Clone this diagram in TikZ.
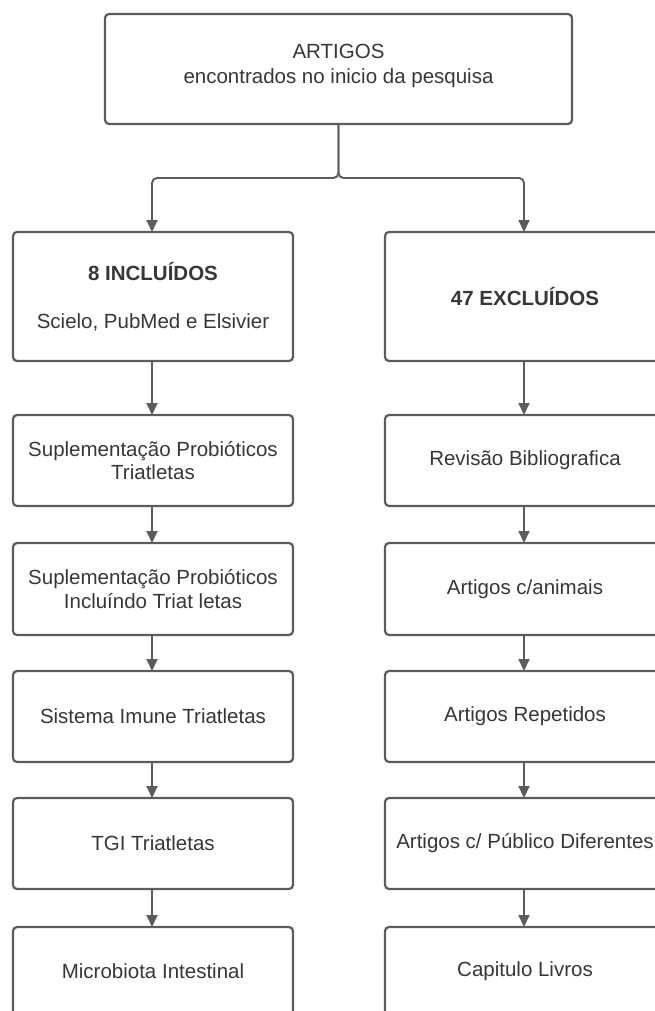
\documentclass[tikz,border=0pt]{standalone}
\usepackage{fontspec}
\setmainfont{Liberation Sans}
\usetikzlibrary{arrows.meta}
\definecolor{lc}{RGB}{92,92,92}
\definecolor{tc}{RGB}{55,55,55}
\tikzset{
  box/.style={draw=lc, line width=2.2pt, rounded corners=4pt, fill=white,
    minimum width=280pt, inner sep=0pt, outer sep=0pt, align=center,
    text=tc, font=\fontsize{20.5}{23.5}\selectfont},
  txt/.style={inner sep=0pt, align=center, text=tc, font=\fontsize{20.5}{25}\selectfont},
  arr/.style={draw=lc, line width=1.9pt, -{Triangle[width=11pt,length=12pt]}},
}
\begin{document}
\begin{tikzpicture}[x=1pt,y=-1pt]
\useasboundingbox (0,0) rectangle (655,1011);
\clip (0,0) rectangle (655,1011);
% top box
\node[box, minimum width=467pt, minimum height=110pt] (top) at (338.5,69) {};
\node[txt] (toptext) at (338.5,65.5) {ARTIGOS\\encontrados no inicio da pesquisa};
\coordinate (j) at (338.5,178);
% left column
\node[box, minimum height=129pt] (l1) at (153,296.5) {\textbf{8 INCLUÍDOS}\\[24pt]Scielo, PubMed e Elsivier};
\node[box, minimum height=91pt] (l2) at (153,460.5) {Suplementação Probióticos\\Triatletas};
\node[box, minimum height=92pt] (l3) at (153,589) {Suplementação Probióticos\\Incluíndo Triat letas};
\node[box, minimum height=91pt] (l4) at (153,716.5) {Sistema Imune Triatletas};
\node[box, minimum height=91pt] (l5) at (153,843.5) {TGI Triatletas};
\node[box, minimum height=89pt] (l6) at (153,971.5) {Microbiota Intestinal};
% right column
\node[box, minimum height=129pt] (r1) at (525,296.5) {\textbf{47 EXCLUÍDOS}};
\node[box, minimum height=91pt] (r2) at (525,460.5) {Revisão Bibliografica};
\node[box, minimum height=92pt] (r3) at (525,589) {Artigos c/animais};
\node[box, minimum height=91pt] (r4) at (525,716.5) {Artigos Repetidos};
\node[box, minimum height=91pt] (r5) at (525,843.5) {Artigos c/ Público Diferentes};
\node[box, minimum height=89pt] (r6) at (525,971.5) {Capitulo Livros};
% connectors
\draw[arr, rounded corners=5pt] (top.south) -- (j) -| ([xshift=-1pt]l1.north);
\draw[arr, rounded corners=5pt] (top.south) -- (j) -| ([xshift=-1pt]r1.north);
\foreach \a/\b in {l1/l2,l2/l3,l3/l4,l4/l5,l5/l6,r1/r2,r2/r3,r3/r4,r4/r5,r5/r6}{
  \draw[arr] ([xshift=-1pt]\a.south) -- ([xshift=-1pt]\b.north);
}
\end{tikzpicture}
\end{document}
